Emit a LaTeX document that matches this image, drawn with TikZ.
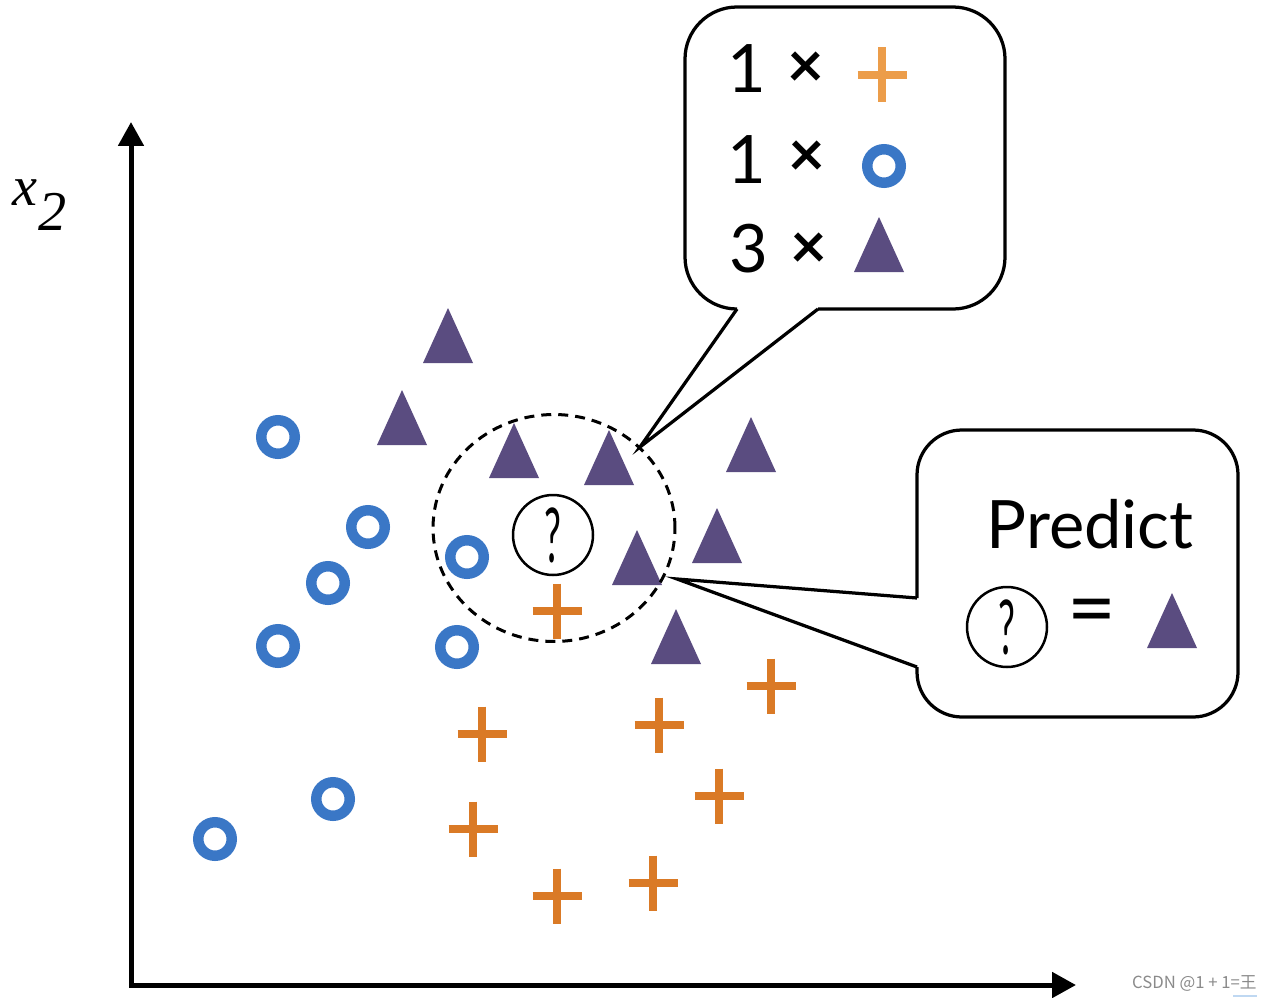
\documentclass[tikz,border=0pt]{standalone}
\usepackage{fontspec}
\usepackage{graphicx}
\usetikzlibrary{arrows.meta}
\newfontfamily\lato{Lato}
\newfontfamily\lserif{Liberation Serif}
\newfontfamily\cjk{Noto Sans CJK SC}
\definecolor{ringblue}{HTML}{3A77C6}
\definecolor{tripurple}{HTML}{5A4C80}
\definecolor{plusorange}{HTML}{DA7A26}
\definecolor{pluslight}{HTML}{EC9D4A}
\definecolor{wmgray}{HTML}{8A8A8A}
\definecolor{wmblue}{HTML}{BFD8F2}
\begin{document}
\begin{tikzpicture}[x=0.02cm, y=-0.02cm,
  axis/.style={line width=0.1cm, line join=miter,
    {Triangle[length=0.48cm,width=0.5cm]}-{Triangle[length=0.48cm,width=0.5cm]}},
  ringmark/.style={draw=ringblue, line width=0.21cm, circle, minimum size=0.67cm, inner sep=0pt},
  tri/.pic={\fill[tripurple] (0,0) -- (-25,55) -- (25,55) -- cycle;},
  plus/.pic={\draw[line width=0.16cm, pic actions] (-24.5,0) -- (24.5,0) (0,-27.5) -- (0,27.5);},
  bubble/.style={draw=black, line width=0.065cm, line join=miter},
  qcircle/.style={draw=black, circle, line width=0.05cm, minimum size=1.6cm, inner sep=0pt,
    font=\lato\fontsize{43}{45}\selectfont},
  bigtext/.style={inner sep=0pt, font=\lato\fontsize{38}{40}\selectfont},
  timestext/.style={inner sep=0pt, font=\lato\bfseries\fontsize{36}{40}\selectfont},
  neighbour/.style={draw=black, line width=0.06cm, dash pattern=on 0.2cm off 0.14cm}
]
\useasboundingbox (0,0) rectangle (1270,997);

% axes
\coordinate (O) at (131,985);
\coordinate (ytip) at (131,122);
\coordinate (xtip) at (1076,985);
\draw[axis] (ytip) -- (O) -- (xtip);
\node[anchor=base west, inner sep=0pt, font=\lserif\itshape\fontsize{32}{36}\selectfont] (xlab) at (12,205)
  {x\kern0.02em\raisebox{-0.45em}{2}};

% blue circles
\foreach \p [count=\i] in {(278,437),(368,527),(328,583),(278,646),(467,557),(457,647),(333,799),(215,839)}
  \node[ringmark] (c\i) at \p {};

% purple triangles (apex positions)
\foreach \p in {(448,308),(402,390),(514,423),(609,430),(751,417),(717,508),(637,530),(676,609)}
  \pic at \p {tri};

% orange pluses
\foreach \p in {(557,611),(482,734),(659,725),(771,686),(719,796),(473,829),(557,896),(653,883)}
  \pic[draw=plusorange] at \p {plus};

% neighbourhood
\draw[neighbour] (554,528) ellipse [x radius=2.42cm, y radius=2.27cm];
\node[qcircle] (q) at (553,535) {\scalebox{0.5}[1]{?}};

% top callout
\coordinate (tipA) at (640,447);
\coordinate (a1) at (737,309);
\coordinate (a2) at (818,309);
\draw[bubble, rounded corners=1.04cm] (a2) -- (1005,309) -- (1005,7) -- (685,7) -- (685,309) -- (a1);
\draw[bubble] (a1) -- (tipA) -- (a2);

\node[bigtext, anchor=base] (n1) at (747,92) {1};
\node[timestext, anchor=base] (m1) at (806,88) {×};
\pic[draw=pluslight] at (882,75) {plus};
\node[bigtext, anchor=base] (n2) at (747,183) {1};
\node[timestext, anchor=base] (m2) at (807,176) {×};
\node[ringmark] (r2) at (884,166) {};
\node[bigtext, anchor=base] (n3) at (749,272) {3};
\node[timestext, anchor=base] (m3) at (809,268) {×};
\pic at (879,217) {tri};

% predict callout
\coordinate (tipB) at (677,579);
\coordinate (b1) at (917,598);
\coordinate (b2) at (917,667);
\draw[bubble, rounded corners=0.9cm] (b1) -- (917,430) -- (1238,430) -- (1238,717) -- (917,717) -- (b2);
\draw[bubble] (b1) -- (tipB) -- (b2);

\node[bigtext, anchor=base] (pred) at (1090,548) {Predict};
\node[qcircle] (q2) at (1007,627) {\scalebox{0.5}[1]{?}};
\node[inner sep=0pt, font=\lato\fontsize{48}{50}\selectfont] (eq) at (1092,618) {=};
\pic at (1172,593) {tri};

% watermark
\node[anchor=base east, inner sep=0pt, text=wmgray, font=\cjk\fontsize{9.5}{11}\selectfont] (wm) at (1257,988) {CSDN @1 + 1=王};
\draw[wmblue, line width=0.04cm] (1233,996) -- (1257,996);
\end{tikzpicture}
\end{document}
